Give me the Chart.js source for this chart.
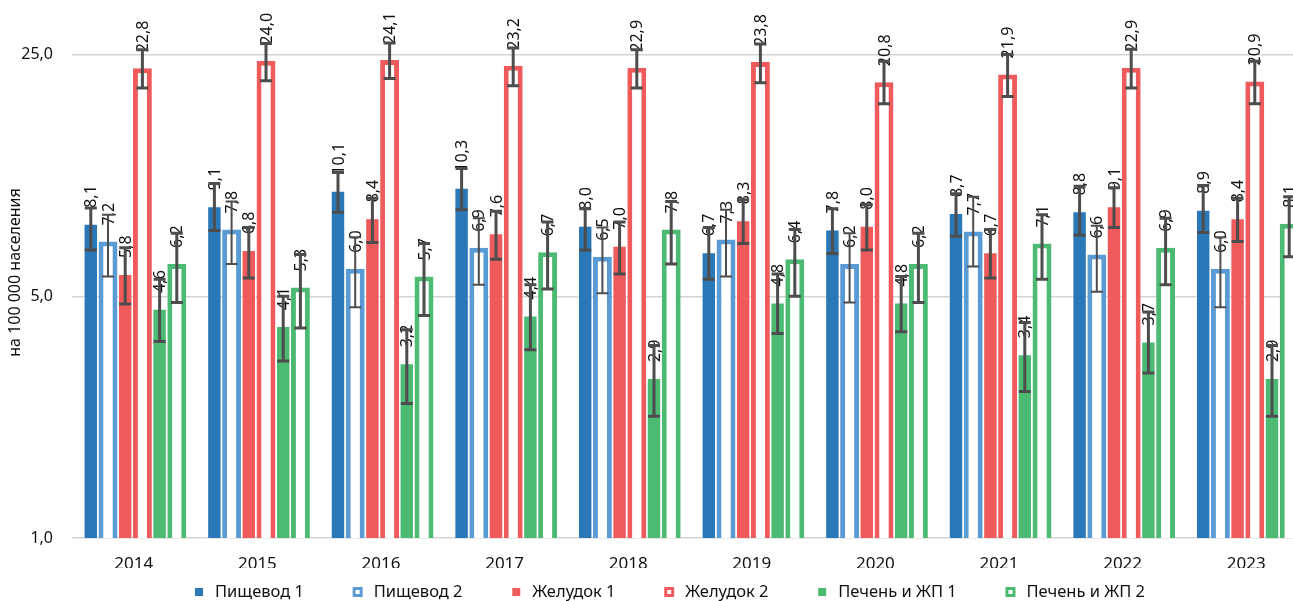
<!DOCTYPE html>
<html>
<head>
<meta charset="utf-8">
<script src="https://cdn.jsdelivr.net/npm/chart.js@4/dist/chart.umd.min.js"></script>
<style>
  html, body { margin: 0; padding: 0; background: #fff; overflow: hidden; }
  #frame { width: 1293px; height: 601px; overflow: hidden; position: relative; }
  #wrap { width: 1330px; height: 601px; position: absolute; left: 0; top: 0; }
</style>
</head>
<body>
<div id="frame"><div id="wrap"><canvas id="chart"></canvas></div></div>
<script>
// Incidence per 100 000 population, with confidence limits
const years = ['2014', '2015', '2016', '2017', '2018', '2019', '2020', '2021', '2022', '2023'];

const esophagus1     = [8.1, 9.1, 10.1, 10.3, 8.0, 6.7, 7.8, 8.7, 8.8, 8.9];
const esophagus1Low  = [6.8, 7.75, 8.75, 8.9, 6.8, 5.6, 6.65, 7.45, 7.5, 7.65];
const esophagus1High = [9.0, 10.6, 11.4, 11.7, 8.95, 7.9, 8.95, 9.9, 10.4, 10.45];

const esophagus2     = [7.2, 7.8, 6.0, 6.9, 6.5, 7.3, 6.2, 7.7, 6.6, 6.0];
const esophagus2Low  = [5.7, 6.2, 4.65, 5.4, 5.1, 5.7, 4.8, 6.1, 5.15, 4.65];
const esophagus2High = [8.6, 9.4, 7.4, 8.4, 7.9, 8.9, 7.6, 9.7, 8.0, 7.4];

const stomach1       = [5.8, 6.8, 8.4, 7.6, 7.0, 8.3, 8.0, 6.7, 9.1, 8.4];
const stomach1Low    = [4.75, 5.65, 7.15, 6.4, 5.8, 7.1, 6.8, 5.65, 7.9, 7.2];
const stomach1High   = [6.9, 7.9, 9.6, 8.8, 8.2, 9.5, 9.2, 7.8, 10.3, 9.6];

const stomach2       = [22.8, 24.0, 24.1, 23.2, 22.9, 23.8, 20.8, 21.9, 22.9, 20.9];
const stomach2Low    = [20.0, 21.0, 21.3, 20.3, 20.0, 20.7, 18.0, 18.9, 20.0, 18.0];
const stomach2High   = [25.8, 26.9, 27.0, 26.1, 25.8, 26.8, 23.9, 25.0, 25.9, 23.9];

const liver1         = [4.6, 4.1, 3.2, 4.4, 2.9, 4.8, 4.8, 3.4, 3.7, 2.9];
const liver1Low      = [3.7, 3.25, 2.45, 3.5, 2.25, 3.9, 3.95, 2.65, 3.0, 2.25];
const liver1High     = [5.6, 5.0, 4.0, 5.4, 3.6, 5.8, 5.7, 4.2, 4.5, 3.6];

const liver2         = [6.2, 5.3, 5.7, 6.7, 7.8, 6.4, 6.2, 7.1, 6.9, 8.1];
const liver2Low      = [4.8, 4.05, 4.4, 5.25, 6.2, 5.0, 4.8, 5.6, 5.4, 6.5];
const liver2High     = [7.6, 6.6, 7.1, 8.2, 9.4, 7.8, 7.6, 8.6, 8.4, 9.7];

const yTicks = [1, 5, 25];
const yTitle = 'на 100 000 населения';

const FONT = '"Noto Sans", "Open Sans", sans-serif';
const TEXT = '#111111';
const WHISKER = '#4d4d4d';

const fmt = v => v.toFixed(1).replace('.', ',');

function filled(label, data, low, high, color) {
  return {
    label, data, low, high, color,
    backgroundColor: color,
    borderColor: 'rgba(255,255,255,0.55)',
    borderWidth: 1,
    barPercentage: 0.84,
    categoryPercentage: 0.835,
    whiskerWidth: 3
  };
}
function outlined(label, data, low, high, color, whiskerWidth) {
  return {
    label, data, low, high, color, outlined: true,
    backgroundColor: '#ffffff',
    borderColor: color,
    borderWidth: 5,
    barPercentage: 1.1,
    categoryPercentage: 0.835,
    whiskerWidth
  };
}

// Value labels above each bar, then confidence whiskers
const barDecorations = {
  id: 'barDecorations',
  afterDatasetsDraw(chart) {
    const ctx = chart.ctx;
    const yScale = chart.scales.y;
    chart.data.datasets.forEach((ds, di) => {
      const meta = chart.getDatasetMeta(di);
      meta.data.forEach((bar, i) => {
        ctx.save();
        ctx.translate(bar.x + 1, bar.y - 16);
        ctx.rotate(-Math.PI / 2);
        ctx.font = '16px ' + FONT;
        ctx.fillStyle = TEXT;
        ctx.textAlign = 'left';
        ctx.textBaseline = 'middle';
        ctx.fillText(fmt(ds.data[i]), 0, 0);
        ctx.restore();
      });
    });
    chart.data.datasets.forEach((ds, di) => {
      const meta = chart.getDatasetMeta(di);
      meta.data.forEach((bar, i) => {
        const yHi = yScale.getPixelForValue(ds.high[i]);
        const yLo = yScale.getPixelForValue(ds.low[i]);
        const x = bar.x;
        const cap = 6;
        ctx.save();
        ctx.strokeStyle = WHISKER;
        ctx.lineWidth = ds.whiskerWidth;
        ctx.lineCap = 'butt';
        ctx.beginPath();
        ctx.moveTo(x, yHi); ctx.lineTo(x, yLo);
        ctx.moveTo(x - cap, yHi); ctx.lineTo(x + cap, yHi);
        ctx.moveTo(x - cap, yLo); ctx.lineTo(x + cap, yLo);
        ctx.stroke();
        ctx.restore();
      });
    });
  }
};

// Series key along the bottom edge
const seriesKey = {
  id: 'seriesKey',
  afterDraw(chart, args, opts) {
    const ctx = chart.ctx;
    ctx.save();
    ctx.font = opts.font;
    const items = chart.data.datasets.map(ds => ({
      ds, w: opts.box + opts.textGap + ctx.measureText(ds.label).width
    }));
    const sum = items.reduce((s, it) => s + it.w, 0);
    const gap = (opts.right - opts.left - sum) / (items.length - 1);
    let x = opts.left;
    const y = opts.y;
    items.forEach(({ ds, w }) => {
      if (ds.outlined) {
        ctx.fillStyle = ds.color;
        ctx.fillRect(x - 1, y - 5, 10, 10);
        ctx.fillStyle = '#ffffff';
        ctx.fillRect(x + 2, y - 2, 4, 4);
      } else {
        ctx.fillStyle = ds.color;
        ctx.fillRect(x, y - 4, 8, 8);
      }
      ctx.fillStyle = TEXT;
      ctx.textAlign = 'left';
      ctx.textBaseline = 'middle';
      ctx.fillText(ds.label, x + opts.box + opts.textGap, y);
      x += w + gap;
    });
    ctx.restore();
  }
};

new Chart(document.getElementById('chart'), {
  type: 'bar',
  data: {
    labels: years,
    datasets: [
      filled('Пищевод 1', esophagus1, esophagus1Low, esophagus1High, '#2b78b9'),
      outlined('Пищевод 2', esophagus2, esophagus2Low, esophagus2High, '#5a9bd5', 2),
      filled('Желудок 1', stomach1, stomach1Low, stomach1High, '#ef5b5c'),
      outlined('Желудок 2', stomach2, stomach2Low, stomach2High, '#ef5b5c', 3),
      filled('Печень и ЖП 1', liver1, liver1Low, liver1High, '#4dba74'),
      outlined('Печень и ЖП 2', liver2, liver2Low, liver2High, '#4dba74', 3)
    ]
  },
  options: {
    responsive: true,
    maintainAspectRatio: false,
    animation: false,
    layout: { padding: { left: 0, right: 22, top: 7, bottom: 33 } },
    plugins: {
      tooltip: { enabled: false },
      legend: { display: false },
      seriesKey: { font: '16.5px ' + FONT, box: 8, textGap: 12, left: 195, right: 1145, y: 592 }
    },
    scales: {
      x: {
        grid: { display: false },
        border: { display: false },
        ticks: { font: { family: FONT, size: 17 }, color: TEXT, padding: 8 },
        afterFit(scale) {
          scale.height = 30;
          scale.paddingLeft = 0;
          scale.paddingRight = 0;
        }
      },
      y: {
        type: 'logarithmic',
        min: 1,
        max: 34.3,
        afterBuildTicks(scale) { scale.ticks = yTicks.map(v => ({ value: v })); },
        afterFit(scale) {
          scale.width = 72;
          scale.paddingTop = 0;
          scale.paddingBottom = 0;
        },
        grid: { color: '#d4d4d4', lineWidth: 1.5, drawTicks: false },
        border: { display: false },
        ticks: {
          font: { family: FONT, size: 16 },
          color: TEXT,
          padding: 19,
          callback: v => fmt(v)
        },
        title: {
          display: true,
          text: yTitle,
          font: { family: FONT, size: 16 },
          color: TEXT,
          padding: { top: 6, bottom: 0 }
        }
      }
    }
  },
  plugins: [barDecorations, seriesKey]
});
</script>
</body>
</html>
